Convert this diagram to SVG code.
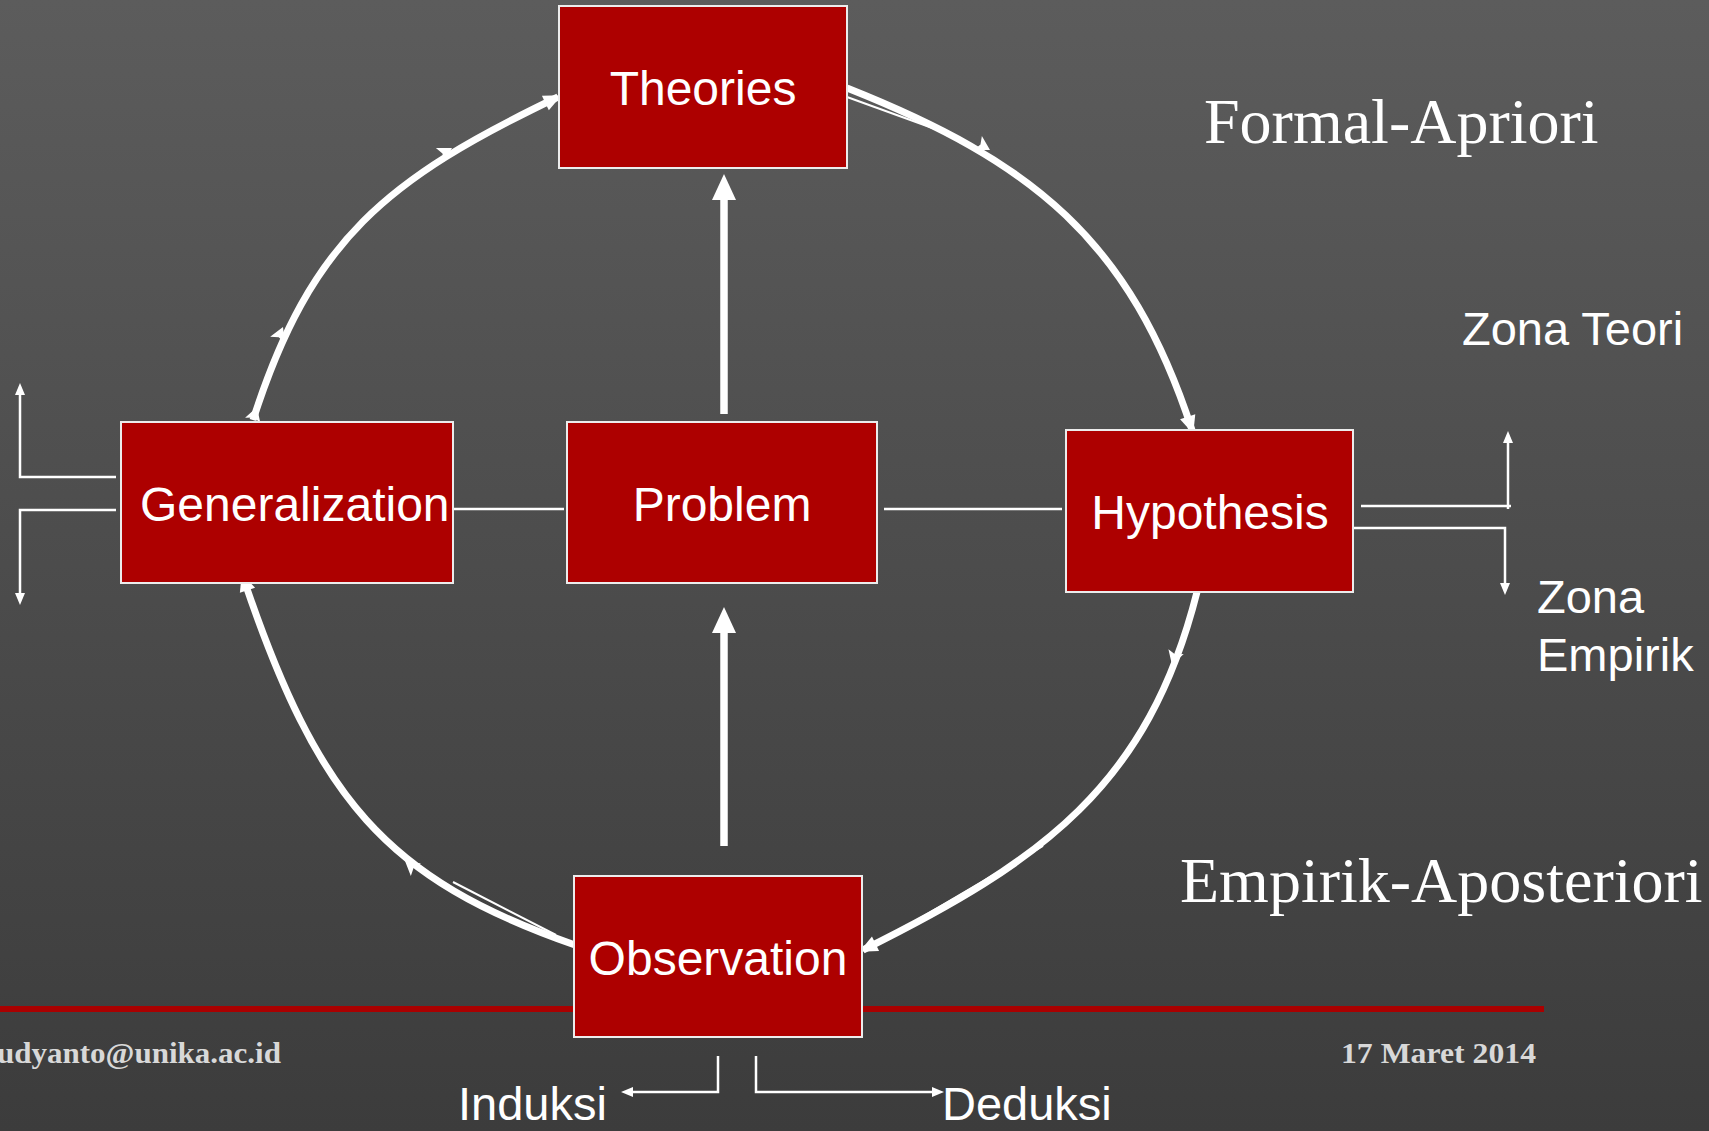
<svg xmlns="http://www.w3.org/2000/svg" xmlns:xlink="http://www.w3.org/1999/xlink" width="1709" height="1131" viewBox="0 0 1709 1131">
<defs>
<linearGradient id="bg" x1="0" y1="0" x2="0" y2="1">
<stop offset="0" stop-color="#5c5c5c"/>
<stop offset="1" stop-color="#3c3c3c"/>
</linearGradient>
<marker id="arcHead" markerUnits="userSpaceOnUse" overflow="visible" orient="auto" refX="0" refY="0" markerWidth="20" markerHeight="20">
<path d="M-14,-8 L4,0 L-14,8 Z" fill="#ffffff"/>
</marker>
<marker id="bigHead" markerUnits="userSpaceOnUse" overflow="visible" orient="auto" refX="0" refY="0" markerWidth="30" markerHeight="30">
<path d="M-6,-12 L20,0 L-6,12 Z" fill="#ffffff"/>
</marker>
<marker id="smallHead" markerUnits="userSpaceOnUse" overflow="visible" orient="auto" refX="0" refY="0" markerWidth="14" markerHeight="14">
<path d="M-3,-5 L9,0 L-3,5 Z" fill="#ffffff"/>
</marker>
<path id="barb" d="M0,0 L-14,-8 L-11,0 L-14,8 Z" fill="#ffffff"/>
<style>
.box{fill:#ad0000;stroke:#ececec;stroke-width:2}
.lbl{font-family:"Liberation Sans",Arial,sans-serif;font-size:48px;fill:#ffffff}
.zone{font-family:"Liberation Sans",Arial,sans-serif;font-size:47px;fill:#ffffff}
.big{font-family:"Liberation Serif","Times New Roman",serif;font-size:64px;fill:#ffffff}
.foot{font-family:"Liberation Serif","Times New Roman",serif;font-size:30px;font-weight:bold;fill:#d8d8d8}
.arc{fill:none;stroke:#ffffff;stroke-width:7}
.thin{fill:none;stroke:#ffffff;stroke-width:2}
.bracket{fill:none;stroke:#ffffff;stroke-width:2.5}
.shaft{fill:none;stroke:#ffffff;stroke-width:7.5}
</style>
</defs>
<rect x="0" y="0" width="1709" height="1131" fill="url(#bg)"/>
<rect x="0" y="1006" width="1544" height="6" fill="#aa0000"/>
<g id="connectors">
<path class="arc" d="M253,420 C311,239 387,179 558,97" marker-end="url(#arcHead)"/>
<path class="arc" d="M847,88 C1033,162 1130,240 1192,430" marker-end="url(#arcHead)"/>
<path class="arc" d="M1197,592 C1148,786 1042,861 863,950" marker-end="url(#arcHead)"/>
<path class="arc" d="M575,945 C386,879 318,800 243,577" marker-end="url(#arcHead)"/>
<line class="thin" x1="847" y1="97" x2="960" y2="138"/>
<line class="thin" x1="1043" y1="846" x2="905" y2="927"/>
<line class="thin" x1="453" y1="882" x2="556" y2="935"/>
<use xlink:href="#barb" transform="translate(257,407) rotate(-72)"/>
<use xlink:href="#barb" transform="translate(283,327) rotate(-67)"/>
<use xlink:href="#barb" transform="translate(452,148) rotate(-30)"/>
<use xlink:href="#barb" transform="translate(990,150) rotate(30)"/>
<use xlink:href="#barb" transform="translate(1172,665) rotate(107)"/>
<use xlink:href="#barb" transform="translate(405,861) rotate(-141)"/>
<line class="shaft" x1="724" y1="414" x2="724" y2="194" marker-end="url(#bigHead)"/>
<line class="shaft" x1="724" y1="846" x2="724" y2="627" marker-end="url(#bigHead)"/>
<line class="bracket" x1="453" y1="509" x2="564" y2="509"/>
<line class="bracket" x1="884" y1="509" x2="1062" y2="509"/>
<path class="bracket" d="M116,477 H20 V392" marker-end="url(#smallHead)"/>
<path class="bracket" d="M116,510 H20 V596" marker-end="url(#smallHead)"/>
<path class="bracket" d="M1361,506 H1511"/>
<path class="bracket" d="M1508,509 V440" marker-end="url(#smallHead)"/>
<path class="bracket" d="M1353,528 H1505 V586" marker-end="url(#smallHead)"/>
<path class="bracket" d="M718,1056 V1092 H630" marker-end="url(#smallHead)"/>
<path class="bracket" d="M756,1056 V1092 H935" marker-end="url(#smallHead)"/>
</g>
<g id="theories">
<rect class="box" x="559" y="6" width="288" height="162"/>
<text class="lbl" x="703" y="105" text-anchor="middle">Theories</text>
</g>
<g id="generalization">
<rect class="box" x="121" y="422" width="332" height="161"/>
<text class="lbl" x="140" y="521">Generalization</text>
</g>
<g id="problem">
<rect class="box" x="567" y="422" width="310" height="161"/>
<text class="lbl" x="722" y="521" text-anchor="middle">Problem</text>
</g>
<g id="hypothesis">
<rect class="box" x="1066" y="430" width="287" height="162"/>
<text class="lbl" x="1210" y="529" text-anchor="middle">Hypothesis</text>
</g>
<g id="observation">
<rect class="box" x="574" y="876" width="288" height="161"/>
<text class="lbl" x="718" y="975" text-anchor="middle">Observation</text>
</g>
<g id="labels">
<text class="big" x="1204" y="143">Formal-Apriori</text>
<text class="big" x="1180" y="902">Empirik-Aposteriori</text>
<text class="zone" x="1462" y="345">Zona Teori</text>
<text class="zone" x="1537" y="613">Zona</text>
<text class="zone" x="1537" y="671">Empirik</text>
<text class="zone" x="458" y="1120">Induksi</text>
<text class="zone" x="942" y="1120">Deduksi</text>
<text class="foot" x="-3" y="1063" textLength="284" lengthAdjust="spacingAndGlyphs">udyanto@unika.ac.id</text>
<text class="foot" x="1341" y="1063" textLength="195" lengthAdjust="spacingAndGlyphs">17 Maret 2014</text>
</g>
</svg>
